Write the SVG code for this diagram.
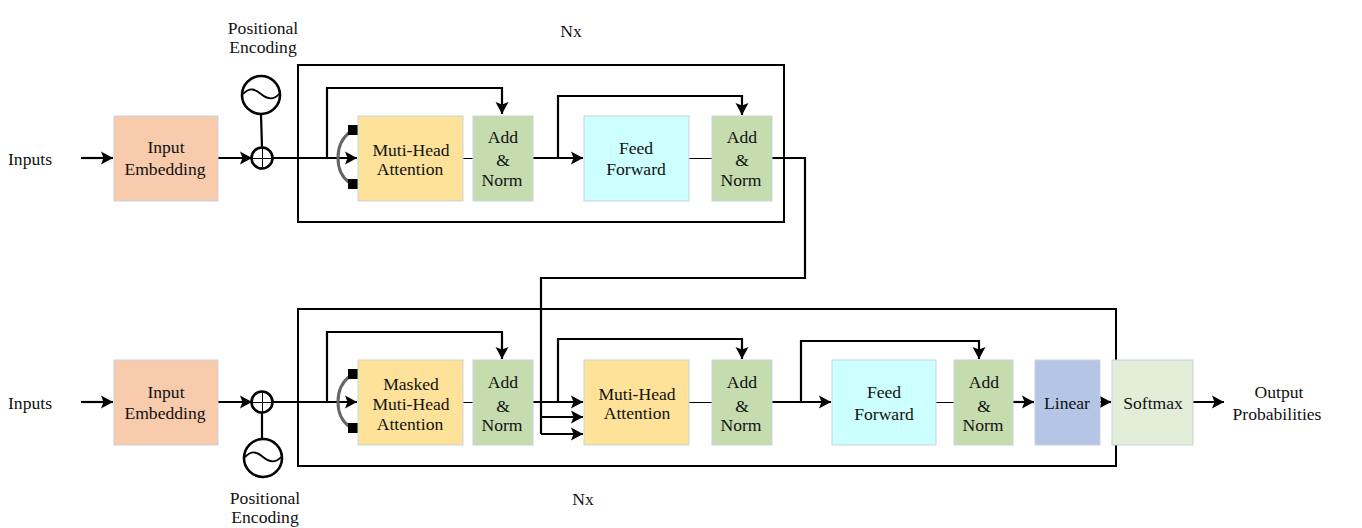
<svg xmlns="http://www.w3.org/2000/svg" width="1362" height="528" viewBox="0 0 1362 528">
<style>
text{font-family:"Liberation Serif","Times New Roman",serif;font-size:17.6px;fill:#111;text-anchor:middle}
.b{stroke-width:1;stroke:#c9d3dc}
.peach{fill:#f8cbad}.yellow{fill:#ffe299}.green{fill:#c5dcaf}.cyan{fill:#ccffff}.blue{fill:#b4c5e5}.pale{fill:#e2eed8}
.frame{fill:none;stroke:#000;stroke-width:2}
.c{fill:none;stroke:#000;stroke-width:2.2}
.t{fill:none;stroke:#000;stroke-width:1}
.s{fill:none;stroke:#000;stroke-width:1.8}
.a{marker-end:url(#arr)}
.o{fill:none;stroke:#000;stroke-width:2.6}
.arc{fill:none;stroke:#666;stroke-width:3}
</style>
<defs>
<marker id="arr" markerUnits="userSpaceOnUse" markerWidth="13" markerHeight="14" refX="12" refY="7" orient="auto"><path d="M0,0.5L12,7L0,13.5L2.5,7Z" fill="#000"/></marker>
</defs>
<rect width="1362" height="528" fill="#fff"/>
<g id="frames">
<rect class="frame" x="298" y="65" width="486" height="157"/>
<rect class="frame" x="298" y="309" width="818" height="157"/>
</g>
<g id="connectors">
<path class="c a" d="M81,158H113"/>
<path class="c a" d="M218,158H252"/>
<path class="c a" d="M272,158H357"/>
<path class="c a" d="M327,158V88H502V114"/>
<path class="t" d="M463,158.500H473"/>
<path class="c a" d="M533,158H583"/>
<path class="c a" d="M558,158V96H742V115"/>
<path class="t" d="M689,158.500H712"/>
<path class="c" d="M772,158H805V278H541V434"/>
<path class="c a" d="M81,402H113"/>
<path class="c a" d="M218,402H252"/>
<path class="c a" d="M272,402H357"/>
<path class="c a" d="M327,402V332H502V359"/>
<path class="t" d="M463,402.500H473"/>
<path class="c a" d="M533,402H583"/>
<path class="c a" d="M541,417H583"/>
<path class="c a" d="M541,434H583"/>
<path class="c a" d="M558,402V339H742V359"/>
<path class="t" d="M689,402.500H712"/>
<path class="c a" d="M772,402H831"/>
<path class="c a" d="M801,402V341H979V359"/>
<path class="t" d="M936,402.500H955"/>
<path class="c a" d="M1011,402H1034"/>
<path class="c a" d="M1098,402H1111"/>
<path class="c a" d="M1191,402H1224"/>
<path class="c" d="M261,115L262,147"/>
<path class="c" d="M262,413V438"/>
<path class="arc" d="M350,132C334,144 334,172 350,183"/>
<path class="arc" d="M350,376C334,388 334,416 350,427"/>
</g>
<g id="masks">
<rect x="348" y="125" width="10" height="10" fill="#000"/>
<rect x="348" y="179" width="10" height="10" fill="#000"/>
<rect x="348" y="369" width="10" height="10" fill="#000"/>
<rect x="348" y="423" width="10" height="10" fill="#000"/>
</g>
<g id="pe-top">
<circle class="o" cx="261" cy="95" r="19"/>
<path class="s" d="M243,94C250,87 255,89 261,94S273,101 279,94"/>
<circle class="o" cx="262" cy="158" r="10.500"/>
<path class="t" d="M252,158.500H272M262.500,148V168"/>
<text x="263" y="34">Positional</text><text x="263" y="53">Encoding</text>
</g>
<g id="pe-bottom">
<circle class="o" cx="263" cy="458" r="19"/>
<path class="s" d="M245,457C252,450 257,452 263,457S275,464 281,457"/>
<circle class="o" cx="262" cy="402" r="10.500"/>
<path class="t" d="M252,402.500H272M262.500,392V412"/>
<text x="265" y="504">Positional</text><text x="265" y="523">Encoding</text>
</g>
<g id="inputs-top"><text x="30" y="165">Inputs</text></g>
<g id="inputs-bottom"><text x="30" y="409">Inputs</text></g>
<g id="nx-top"><text x="571" y="37">Nx</text></g>
<g id="nx-bottom"><text x="583" y="505">Nx</text></g>
<g id="embed-top"><rect class="peach b" x="114" y="116" width="104" height="85"/><text x="166" y="153">Input</text><text x="165" y="175">Embedding</text></g>
<g id="attn-top"><rect class="yellow b" x="358" y="116" width="105" height="85"/><text x="411" y="156">Muti-Head</text><text x="410" y="175">Attention</text></g>
<g id="norm-top-1"><rect class="green b" x="473" y="116" width="60" height="85"/><text x="503" y="143">Add</text><text x="503" y="166">&amp;</text><text x="502" y="186">Norm</text></g>
<g id="ff-top"><rect class="cyan b" x="584" y="116" width="105" height="85"/><text x="636" y="154">Feed</text><text x="636" y="175">Forward</text></g>
<g id="norm-top-2"><rect class="green b" x="712" y="116" width="60" height="85"/><text x="742" y="143">Add</text><text x="742" y="166">&amp;</text><text x="741" y="186">Norm</text></g>
<g id="embed-bottom"><rect class="peach b" x="114" y="360" width="104" height="85"/><text x="166" y="398">Input</text><text x="165" y="419">Embedding</text></g>
<g id="masked-attn"><rect class="yellow b" x="358" y="360" width="105" height="85"/><text x="411" y="390">Masked</text><text x="411" y="410">Muti-Head</text><text x="410" y="430">Attention</text></g>
<g id="norm-bottom-1"><rect class="green b" x="473" y="360" width="60" height="85"/><text x="503" y="388">Add</text><text x="503" y="412">&amp;</text><text x="502" y="431">Norm</text></g>
<g id="attn-bottom"><rect class="yellow b" x="584" y="360" width="105" height="85"/><text x="637" y="400">Muti-Head</text><text x="637" y="419">Attention</text></g>
<g id="norm-bottom-2"><rect class="green b" x="712" y="360" width="60" height="85"/><text x="742" y="388">Add</text><text x="742" y="412">&amp;</text><text x="741" y="431">Norm</text></g>
<g id="ff-bottom"><rect class="cyan b" x="832" y="360" width="104" height="85"/><text x="884" y="398">Feed</text><text x="884" y="420">Forward</text></g>
<g id="norm-bottom-3"><rect class="green b" x="954" y="360" width="59" height="85"/><text x="984" y="388">Add</text><text x="984" y="412">&amp;</text><text x="983" y="431">Norm</text></g>
<g id="linear"><rect class="blue b" x="1035" y="360" width="65" height="85"/><text x="1067" y="409">Linear</text></g>
<g id="softmax"><rect class="pale b" x="1112" y="360" width="81" height="85"/><text x="1153" y="409">Softmax</text></g>
<g id="output"><text x="1279" y="398">Output</text><text x="1277" y="420">Probabilities</text></g>
</svg>
